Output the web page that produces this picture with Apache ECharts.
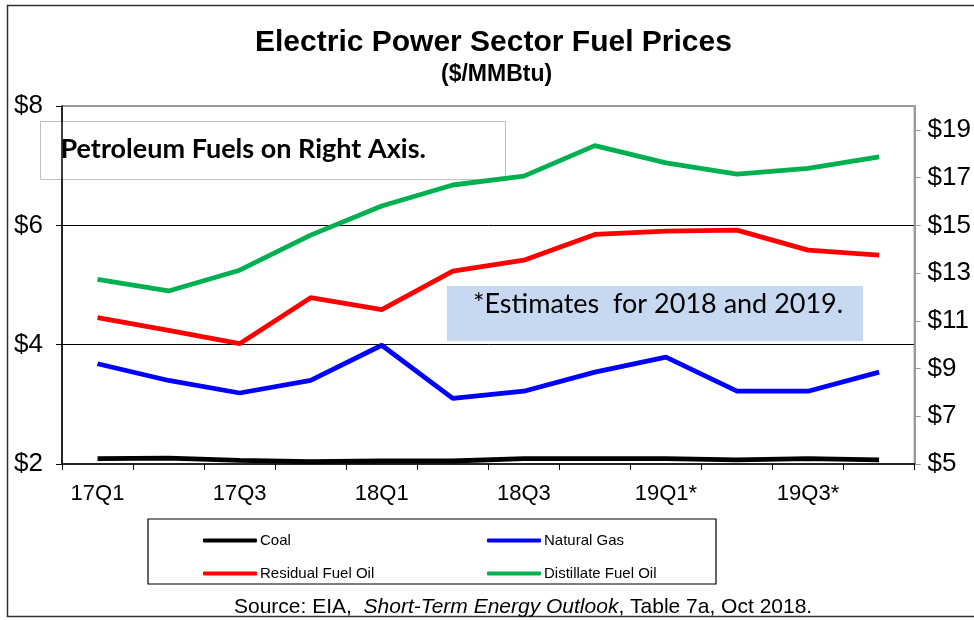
<!DOCTYPE html>
<html lang="en">
<head>
    <meta charset="UTF-8">
    <title>Electric Power Sector Fuel Prices</title>
    <style>
        * {
            margin: 0;
            padding: 0;
        }
        body {
            background: #fff;
        }
        .mychart {
            width: 974px;
            height: 620px;
        }
    </style>
</head>
<body>
    <div class="mychart"></div>
</body>
<script src="https://cdn.jsdelivr.net/npm/echarts@6/dist/echarts.min.js"></script>
<script>
    // quarters, * = forecast
    const quarters = ['17Q1', '17Q2', '17Q3', '17Q4', '18Q1', '18Q2', '18Q3', '18Q4', '19Q1*', '19Q2*', '19Q3*', '19Q4*']

    // left axis ($/MMBtu)
    const coal = [2.09, 2.10, 2.06, 2.04, 2.05, 2.05, 2.09, 2.09, 2.09, 2.07, 2.09, 2.07]
    const naturalGas = [3.68, 3.40, 3.19, 3.40, 3.99, 3.10, 3.22, 3.54, 3.79, 3.22, 3.22, 3.54]

    // right axis ($/MMBtu)
    const residualFuelOil = [11.13, 10.60, 10.04, 11.97, 11.47, 13.08, 13.54, 14.62, 14.76, 14.80, 13.96, 13.75]
    const distillateFuelOil = [12.74, 12.25, 13.12, 14.59, 15.81, 16.69, 17.06, 18.34, 17.62, 17.15, 17.39, 17.87]

    const arial = '"Liberation Sans", Arial, sans-serif'
    const calibri = 'Lato, "Open Sans", sans-serif'

    const myChart = echarts.init(document.querySelector('.mychart'), null, { renderer: 'canvas' })

    //one legend per item so they sit in a 2x2 box
    function legendItem(name, left, top) {
        return {
            data: [name],
            left: left,
            top: top,
            icon: 'roundRect',
            itemWidth: 54,
            itemHeight: 4,
            itemGap: 0,
            padding: 0,
            textStyle: { fontFamily: arial, fontSize: 15, color: '#000', padding: [0, 0, 0, -2] },
            selectedMode: false
        }
    }

    function lineSeries(name, data, color, axis) {
        return {
            name: name,
            type: 'line',
            yAxisIndex: axis,
            data: data,
            symbol: 'none',
            lineStyle: { color: color, width: 4.8 },
            itemStyle: { color: color },
            emphasis: { disabled: true }
        }
    }

    const config = {
        animation: false,
        title: [{
            text: 'Electric Power Sector Fuel Prices',
            left: 250,
            top: 23,
            textStyle: { fontFamily: arial, fontSize: 30, fontWeight: 'bold', color: '#000' }
        }, {
            text: '($/MMBtu)',
            left: 436,
            top: 58,
            textStyle: { fontFamily: arial, fontSize: 23, fontWeight: 'bold', color: '#000' }
        }, {
            text: 'Source: EIA,  {i|Short-Term Energy Outlook}, Table 7a, Oct 2018.',
            left: 229,
            top: 592,
            textStyle: {
                fontFamily: arial, fontSize: 21, fontWeight: 'normal', color: '#000',
                rich: { i: { fontFamily: arial, fontSize: 21, fontStyle: 'italic', color: '#000' } }
            }
        }],
        legend: [
            legendItem('Coal', 203, 533),
            legendItem('Natural Gas', 487, 533),
            legendItem('Residual Fuel Oil', 203, 566),
            legendItem('Distillate Fuel Oil', 487, 566)
        ],
        grid: {
            left: 62,
            right: 57,
            top: 106,
            bottom: 156,
            show: true,
            borderColor: '#999',
            borderWidth: 2,
            containLabel: false
        },
        xAxis: {
            type: 'category',
            data: quarters,
            boundaryGap: true,
            axisLine: { lineStyle: { color: '#000', width: 1.5 } },
            axisTick: { show: true, interval: 0, length: 6, lineStyle: { color: '#000' } },
            axisLabel: {
                interval: 1,
                margin: 19,
                fontFamily: arial,
                fontSize: 22,
                color: '#000'
            }
        },
        yAxis: [{
            type: 'value',
            min: 2,
            max: 8,
            interval: 2,
            axisLine: { show: true, lineStyle: { color: '#000', width: 1.5 } },
            axisTick: { show: true, length: 6, lineStyle: { color: '#000' } },
            splitLine: { show: true, showMinLine: false, showMaxLine: false, lineStyle: { color: '#000', width: 1 } },
            axisLabel: {
                formatter: '${value}',
                margin: 19,
                fontFamily: arial,
                fontSize: 26,
                color: '#000'
            }
        }, {
            type: 'value',
            position: 'right',
            min: 5,
            max: 20,
            interval: 2,
            axisLine: { show: true, lineStyle: { color: '#999', width: 2 } },
            axisTick: { show: true, length: 6, lineStyle: { color: '#999' } },
            splitLine: { show: false },
            axisLabel: {
                formatter: '${value}',
                showMaxLabel: false,
                margin: 13,
                fontFamily: arial,
                fontSize: 26,
                color: '#000'
            }
        }],
        series: [
            lineSeries('Coal', coal, '#000000', 0),
            lineSeries('Natural Gas', naturalGas, '#0000ff', 0),
            lineSeries('Residual Fuel Oil', residualFuelOil, '#ff0000', 1),
            lineSeries('Distillate Fuel Oil', distillateFuelOil, '#00b050', 1)
        ],
        graphic: [{
            // outer frame
            type: 'rect',
            shape: { x: 7.5, y: 5.5, width: 980, height: 611 },
            style: { fill: 'none', stroke: '#333', lineWidth: 1.5 },
            silent: true
        }, {
            // legend box
            type: 'rect',
            shape: { x: 148, y: 519, width: 568, height: 65 },
            style: { fill: 'none', stroke: '#000', lineWidth: 1.2 },
            silent: true
        }, {
            type: 'group',
            left: 40,
            top: 121,
            z: 100,
            children: [{
                type: 'rect',
                shape: { x: 0, y: 0, width: 465, height: 58 },
                style: { fill: '#fff', stroke: '#bfbfbf', lineWidth: 1 }
            }, {
                type: 'text',
                x: 20,
                y: 28,
                style: {
                    text: 'Petroleum Fuels on Right Axis.',
                    font: 'bold 27px ' + calibri,
                    fill: '#000',
                    verticalAlign: 'middle'
                }
            }]
        }, {
            type: 'group',
            left: 447,
            top: 286,
            z: 100,
            children: [{
                type: 'rect',
                shape: { x: 0, y: 0, width: 416, height: 55 },
                style: { fill: '#c6d9f1' }
            }, {
                type: 'text',
                x: 26,
                y: 18,
                style: {
                    text: '*Estimates  for 2018 and 2019.',
                    font: '27px ' + calibri,
                    fill: '#000',
                    verticalAlign: 'middle'
                }
            }]
        }]
    }

    myChart.setOption(config)
</script>
</html>
